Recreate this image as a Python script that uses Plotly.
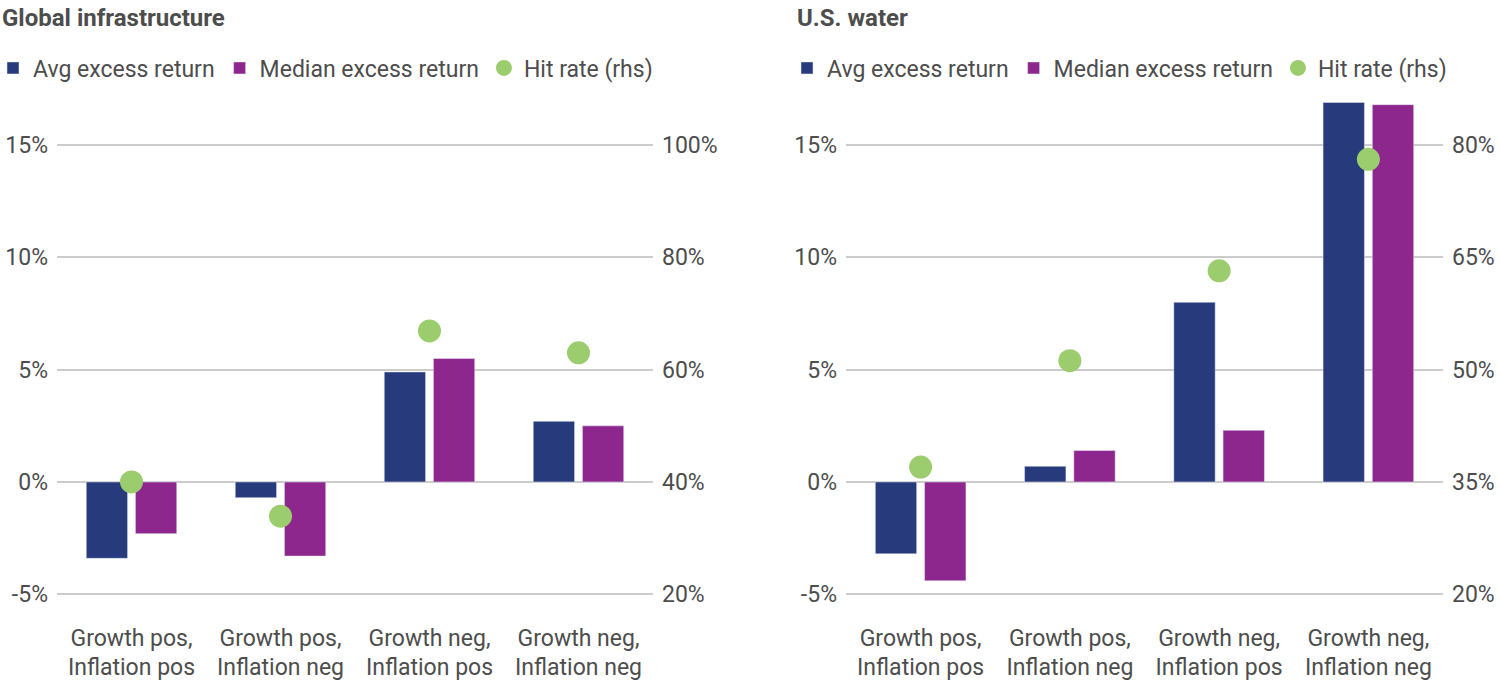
import plotly.graph_objects as go

categories = ["Growth pos,<br>Inflation pos", "Growth pos,<br>Inflation neg",
              "Growth neg,<br>Inflation pos", "Growth neg,<br>Inflation neg"]

# Global infrastructure
gi_avg = [-3.4, -0.7, 4.9, 2.7]
gi_median = [-2.3, -3.3, 5.5, 2.5]
gi_hit = [40.0, 33.9, 66.9, 63.0]

# U.S. water
uw_avg = [-3.2, 0.7, 8.0, 16.9]
uw_median = [-4.4, 1.4, 2.3, 16.8]
uw_hit = [37.0, 51.2, 63.2, 78.1]

left_ticks = [-5, 0, 5, 10, 15]
gi_right_ticks = [20, 40, 60, 80, 100]
uw_right_ticks = [20, 35, 50, 65, 80]

NAVY = "#263A7C"
PURPLE = "#8D278E"
GREEN = "#9BCC6E"
TEXT = "#4D4D4D"
GRID = "#CCCCCC"
FONT = "Roboto, Liberation Sans, sans-serif"
FS = 23

def pct(vals):
    return [f"{v}%" for v in vals]

fig = go.Figure()

def add_panel(avg, med, hit, xa, ya, ya2, legend):
    fig.add_trace(go.Bar(x=categories, y=avg, name="Avg excess return",
                         marker_color=NAVY, xaxis=xa, yaxis=ya, legend=legend))
    fig.add_trace(go.Bar(x=categories, y=med, name="Median excess return",
                         marker_color=PURPLE, xaxis=xa, yaxis=ya, legend=legend))
    fig.add_trace(go.Scatter(x=categories, y=hit, name="Hit rate (rhs)", mode="markers",
                             marker=dict(color=GREEN, size=23), xaxis=xa, yaxis=ya2,
                             legend=legend))

add_panel(gi_avg, gi_median, gi_hit, "x", "y", "y2", "legend")
add_panel(uw_avg, uw_median, uw_hit, "x2", "y3", "y4", "legend2")

y_lo, y_hi = -5.5, 17.2
ydom = [1 - 605.5 / 700, 1 - 95.7 / 700]

xcommon = dict(type="category", showgrid=False, showline=False, zeroline=False,
               ticks="", tickangle=0, ticklabelstandoff=16,
               tickfont=dict(size=FS, color=TEXT, family=FONT))
ycommon = dict(showline=False, zeroline=False, ticks="", ticklabelstandoff=8,
               tickfont=dict(size=FS, color=TEXT, family=FONT), domain=ydom)

fig.update_layout(
    width=1500, height=700,
    margin=dict(l=0, r=0, t=0, b=0, autoexpand=False),
    paper_bgcolor="white", plot_bgcolor="white",
    font=dict(family=FONT, color=TEXT, size=FS),
    barmode="group", bargap=0.34, bargroupgap=0.16,
    xaxis=dict(domain=[57 / 1500, 653 / 1500], anchor="y", **xcommon),
    xaxis2=dict(domain=[846 / 1500, 1443 / 1500], anchor="y3", **xcommon),
    yaxis=dict(range=[y_lo, y_hi], tickvals=left_ticks, ticktext=pct(left_ticks),
               showgrid=True, gridcolor=GRID, gridwidth=1.5, anchor="x", **ycommon),
    yaxis2=dict(range=[40 + 4 * y_lo, 40 + 4 * y_hi], tickvals=gi_right_ticks,
                ticktext=pct(gi_right_ticks), showgrid=False, overlaying="y",
                side="right", anchor="x", **ycommon),
    yaxis3=dict(range=[y_lo, y_hi], tickvals=left_ticks, ticktext=pct(left_ticks),
                showgrid=True, gridcolor=GRID, gridwidth=1.5, anchor="x2", **ycommon),
    yaxis4=dict(range=[35 + 3 * y_lo, 35 + 3 * y_hi], tickvals=uw_right_ticks,
                ticktext=pct(uw_right_ticks), showgrid=False, overlaying="y3",
                side="right", anchor="x2", **ycommon),
    legend=dict(orientation="h", x=-7 / 1500, y=1 - 68 / 700, xanchor="left",
                yanchor="middle", font=dict(size=FS, color=TEXT, family=FONT),
                bgcolor="rgba(0,0,0,0)", itemclick=False, itemdoubleclick=False),
    legend2=dict(orientation="h", x=787 / 1500, y=1 - 68 / 700, xanchor="left",
                 yanchor="middle", font=dict(size=FS, color=TEXT, family=FONT),
                 bgcolor="rgba(0,0,0,0)", itemclick=False, itemdoubleclick=False),
    annotations=[
        dict(text="<b>Global infrastructure</b>", x=0, y=1 - 18 / 700, xref="paper",
             yref="paper", xanchor="left", yanchor="middle", showarrow=False,
             font=dict(size=24, color=TEXT, family=FONT)),
        dict(text="<b>U.S. water</b>", x=795 / 1500, y=1 - 18 / 700, xref="paper",
             yref="paper", xanchor="left", yanchor="middle", showarrow=False,
             font=dict(size=24, color=TEXT, family=FONT)),
    ],
)

fig.write_html("out.html")
